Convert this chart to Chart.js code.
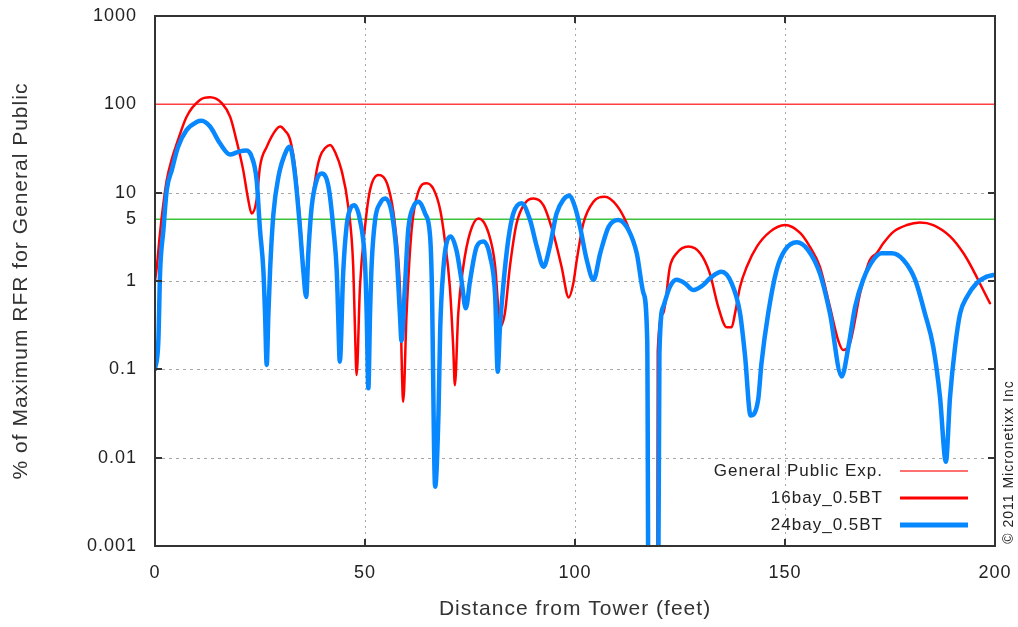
<!DOCTYPE html>
<html>
<head>
<meta charset="utf-8">
<title>RFR vs distance</title>
<script src="https://cdn.jsdelivr.net/npm/chart.js@4.4.1/dist/chart.umd.min.js"></script>
<style>
  html, body { margin: 0; padding: 0; background: #fff; }
  #wrap { width: 1018px; height: 627px; position: relative; }
</style>
</head>
<body>
<div id="wrap"><canvas id="rfr"></canvas></div>
<script>
/* ===== DATA ===== */
const xTicks = [0, 50, 100, 150, 200];
const yTicks = [1000, 100, 10, 5, 1, 0.1, 0.01, 0.001];
const xGrid = [50, 100, 150];
const yGrid = [10, 1, 0.1, 0.01];

const seriesLabels = ["General Public Exp.", "16bay_0.5BT", "24bay_0.5BT"];
const gpExpLimit = 100;   // general public exposure level
const refLevel = 5;       // green reference line
const limitSpan = [0, 200];

// 16 bay antenna, % of max RFR vs distance (ft)
const dist16 = [0, 0.4, 1.2, 2.0, 2.8, 4.0, 5.2, 7.5, 10.7, 13.1, 15.9, 17.9, 19.4, 21.0, 22.2, 23.0, 24.2, 25.0, 26.6, 29.0,
  29.8, 31.0, 32.1, 33.3, 34.5, 35.3, 35.9, 36.5, 37.3, 38.5, 39.3, 40.5, 41.7, 43.0, 44.4, 46.0, 47.2, 47.6, 48.0, 48.8,
  50.0, 51.2, 53.2, 55.5, 57.1, 58.3, 59.1, 59.9, 61.1, 62.7, 64.7, 66.3, 67.9, 69.0, 70.2, 71.0, 71.4, 72.2, 73.4, 75.0,
  77.0, 79.4, 81.0, 81.7, 82.1, 83.3, 84.5, 86.1, 88.1, 90.1, 92.5, 94.8, 96.8, 98.5, 99.6, 100.4, 102.0, 104.4, 107.1, 109.9,
  112.3, 114.7, 116.3, 117.3, 117.5, 119.6, 119.7, 121.0, 122.6, 124.2, 127.0, 129.8, 132.1, 134.1, 136.1, 137.3, 138.1, 139.3, 140.9, 143.3,
  146.4, 150.0, 153.6, 155.9, 158.3, 160.7, 162.7, 163.9, 165.5, 167.9, 170.2, 171.8, 173.4, 175.8, 179.0, 182.1, 185.3, 189.3, 192.5, 194.8,
  196.8, 198.8];
const bay16 = [1.0, 1.4, 3.5, 7.5, 13.9, 24, 36, 72, 112, 120, 103, 72, 39, 18, 8.3, 5.8, 8.3, 19.7, 33, 53,
  56, 50, 41, 20, 5.0, 1.5, 0.8, 2.2, 7.0, 18, 25.6, 32, 34.7, 28, 18, 7.0, 1.45, 0.3, 0.086, 0.86,
  4.1, 10.7, 15.8, 11.7, 4.5, 0.86, 0.043, 0.43, 3.8, 10.3, 12.8, 11, 6.4, 2.9, 0.86, 0.18, 0.066, 0.43, 1.45, 3.5,
  5.1, 3.5, 1.45, 0.51, 0.30, 0.43, 1.45, 4.5, 7.6, 8.6, 7.2, 3.5, 1.45, 0.65, 0.94, 1.7, 4.5, 7.9, 9.0, 7.2,
  4.5, 2.06, 0.73, 0.2, 0.0002, 0.0002, 0.16, 0.43, 1.45, 2.06, 2.45, 2.06, 1.22, 0.51, 0.30, 0.30, 0.43, 0.86, 1.45, 2.45,
  3.6, 4.3, 3.5, 2.45, 1.45, 0.51, 0.21, 0.165, 0.2, 0.73, 1.73, 2.06, 2.67, 3.6, 4.3, 4.6, 4.3, 3.2, 2.06, 1.33,
  0.86, 0.56];

// 24 bay antenna
const dist24 = [0, 0.8, 1.2, 2.0, 2.8, 4.0, 5.5, 7.5, 9.9, 11.1, 13.1, 15.5, 17.9, 19.8, 21.8, 23.0, 24.2, 25.0, 25.8, 26.2,
  26.6, 27.0, 27.4, 28.2, 29.4, 31.3, 32.1, 33.3, 34.5, 35.3, 36.0, 36.5, 37.3, 38.5, 39.7, 41.3, 42.5, 43.3, 43.6, 44.0,
  44.8, 45.6, 46.4, 47.4, 48.8, 50.0, 50.4, 50.8, 51.2, 51.6, 52.4, 53.6, 54.8, 56.4, 57.5, 58.3, 58.7, 59.5, 60.3, 61.5,
  62.7, 64.3, 65.5, 65.9, 66.7, 67.5, 67.9, 68.7, 69.4, 70.4, 71.8, 73.0, 74.0, 75.0, 76.6, 78.2, 79.8, 81.0, 81.6, 82.1,
  82.9, 84.1, 85.3, 87.3, 89.3, 90.9, 92.5, 94.0, 95.6, 97.2, 98.6, 100.0, 101.2, 102.8, 104.4, 106.0, 108.0, 110.3, 112.7, 114.7,
  116.3, 117.2, 117.5, 119.8, 120.1, 121.0, 122.6, 124.2, 126.2, 128.2, 130.5, 132.1, 134.9, 137.3, 139.3, 140.5, 141.8, 143.6, 144.4, 146.0,
  148.0, 150.0, 152.8, 155.5, 158.3, 160.7, 163.5, 165.1, 166.7, 168.6, 171.0, 173.0, 175.4, 178.2, 181.0, 183.3, 185.3, 186.9, 188.3, 189.3,
  190.5, 191.7, 193.3, 195.6, 198.0, 199.6];
const bay24 = [0.1, 0.21, 1.22, 3.8, 10.7, 18, 33, 51, 63, 65, 56, 36, 27, 29, 30, 25.6, 13.9, 3.8, 1.33, 0.43,
  0.112, 0.43, 1.33, 5.8, 15.2, 30, 33, 16.5, 4.1, 1.33, 0.66, 2.06, 6.9, 13.9, 16.5, 11.7, 3.8, 1.22, 0.43, 0.122,
  1.22, 4.1, 6.4, 7.2, 4.9, 1.59, 0.43, 0.061, 0.43, 1.59, 4.9, 7.6, 8.6, 5.8, 2.06, 0.43, 0.21, 0.86, 3.8, 6.9,
  7.9, 5.8, 3.2, 1.0, 0.0047, 0.032, 0.28, 1.45, 2.67, 3.2, 2.2, 1.0, 0.49, 1.0, 2.45, 2.8, 1.88, 0.66, 0.094, 0.28,
  0.86, 2.9, 5.8, 7.6, 4.9, 2.45, 1.45, 2.45, 5.8, 8.3, 9.2, 6.9, 4.1, 1.73, 1.03, 2.06, 4.1, 4.9, 3.8, 2.06,
  0.73, 0.21, 0.0002, 0.0002, 0.15, 0.51, 0.86, 1.03, 0.94, 0.79, 0.9, 1.07, 1.27, 0.94, 0.43, 0.14, 0.030, 0.045, 0.117, 0.43,
  1.33, 2.24, 2.74, 2.24, 1.22, 0.43, 0.083, 0.18, 0.51, 1.03, 1.73, 2.06, 2.06, 1.73, 1.03, 0.43, 0.18, 0.049, 0.009, 0.049,
  0.18, 0.43, 0.66, 0.94, 1.12, 1.17];

const toPoints = (xs, ys) => xs.map((x, i) => ({ x, y: ys[i] }));
const flat = v => limitSpan.map(x => ({ x, y: v }));

/* ===== LOOK ===== */
const FONT = "'Liberation Sans', Arial, Helvetica, sans-serif";
const TEXT = "#222";

// fixed plot box: the scales must not push it around
const fixBox = size => s => {
  Object.assign(s, size);
  s.paddingTop = s.paddingBottom = s.paddingLeft = s.paddingRight = 0;
};

/* ===== PLUGIN: grid, frame, legend, copyright ===== */
const framePlugin = {
  id: "frame",
  beforeDraw(chart) {
    chart.ctx.letterSpacing = "1px";
  },
  beforeDatasetsDraw(chart) {
    const { ctx, chartArea: a, scales: { x, y } } = chart;
    ctx.save();
    ctx.strokeStyle = "#a8a8a8";
    ctx.lineWidth = 1;
    ctx.setLineDash([3, 4]);
    yGrid.forEach(v => {
      const py = Math.round(y.getPixelForValue(v)) + 0.5;
      ctx.beginPath();
      ctx.moveTo(a.left, py);
      ctx.lineTo(a.right, py);
      ctx.stroke();
    });
    ctx.setLineDash([2, 4]);
    xGrid.forEach(v => {
      const px = Math.round(x.getPixelForValue(v)) + 0.5;
      ctx.beginPath();
      ctx.moveTo(px, a.top);
      ctx.lineTo(px, a.bottom);
      ctx.stroke();
    });
    ctx.restore();
  },
  afterDatasetsDraw(chart) {
    const { ctx, chartArea: a, scales: { x, y } } = chart;
    ctx.save();
    ctx.strokeStyle = "#333";
    ctx.lineWidth = 2;
    ctx.strokeRect(a.left, a.top, a.right - a.left, a.bottom - a.top);
    ctx.beginPath();
    yGrid.forEach(v => {
      const py = Math.round(y.getPixelForValue(v));
      ctx.moveTo(a.left, py); ctx.lineTo(a.left + 7, py);
      ctx.moveTo(a.right, py); ctx.lineTo(a.right - 7, py);
    });
    xGrid.forEach(v => {
      const px = Math.round(x.getPixelForValue(v));
      ctx.moveTo(px, a.bottom); ctx.lineTo(px, a.bottom - 7);
      ctx.moveTo(px, a.top); ctx.lineTo(px, a.top + 7);
    });
    ctx.stroke();

    // legend, bottom right inside the plot
    ctx.font = `17px ${FONT}`;
    ctx.textAlign = "right";
    ctx.textBaseline = "middle";
    ctx.fillStyle = TEXT;
    seriesLabels.forEach((label, i) => {
      const ds = chart.data.datasets.find(d => d.label === label);
      const rowY = a.bottom - 75 + i * 27;
      ctx.fillText(label, a.right - 112, rowY);
      ctx.strokeStyle = ds.borderColor;
      ctx.lineWidth = ds.legendWidth;
      ctx.beginPath();
      ctx.moveTo(a.right - 95, rowY);
      ctx.lineTo(a.right - 27, rowY);
      ctx.stroke();
    });

    // copyright, vertical on the right
    ctx.translate(1009, 462);
    ctx.rotate(-Math.PI / 2);
    ctx.font = `14px ${FONT}`;
    ctx.textAlign = "center";
    ctx.fillStyle = TEXT;
    ctx.fillText("© 2011 Micronetixx Inc", 0, 0);
    ctx.restore();
  }
};

/* ===== CHART ===== */
new Chart(document.getElementById("rfr"), {
  type: "line",
  data: {
    datasets: [
      {
        label: seriesLabels[2],
        data: toPoints(dist24, bay24),
        borderColor: "#0888ff",
        borderWidth: 4.5,
        legendWidth: 5,
        cubicInterpolationMode: "monotone"
      },
      {
        label: seriesLabels[1],
        data: toPoints(dist16, bay16),
        borderColor: "#ff0000",
        borderWidth: 2.5,
        legendWidth: 3,
        cubicInterpolationMode: "monotone"
      },
      {
        label: seriesLabels[0],
        data: flat(gpExpLimit),
        borderColor: "#ff4040",
        borderWidth: 1.5,
        legendWidth: 1.5
      },
      {
        label: "",
        data: flat(refLevel),
        borderColor: "#3cc43c",
        borderWidth: 1.5
      }
    ]
  },
  options: {
    responsive: true,
    maintainAspectRatio: false,
    animation: false,
    events: [],
    layout: { autoPadding: false, padding: { top: 16, right: 23, bottom: 0, left: 0 } },
    elements: {
      point: { radius: 0 },
      line: { tension: 0, borderJoinStyle: "round", borderCapStyle: "round" }
    },
    plugins: {
      legend: { display: false },
      tooltip: { enabled: false }
    },
    scales: {
      x: {
        type: "linear",
        min: 0,
        max: 200,
        afterFit: fixBox({ height: 81 }),
        afterBuildTicks: s => { s.ticks = xTicks.map(value => ({ value })); },
        grid: { display: false, drawTicks: false },
        border: { display: false },
        ticks: {
          padding: 16,
          maxRotation: 0,
          color: TEXT,
          font: { family: FONT, size: 18 }
        },
        title: {
          display: true,
          text: "Distance from Tower (feet)",
          color: "#333",
          font: { family: FONT, size: 21 },
          padding: { top: 0, bottom: 5 }
        }
      },
      y: {
        type: "logarithmic",
        min: 0.001,
        max: 1000,
        afterFit: fixBox({ width: 155 }),
        afterBuildTicks: s => { s.ticks = yTicks.map(value => ({ value })); },
        grid: { display: false, drawTicks: false },
        border: { display: false },
        ticks: {
          padding: 18,
          color: TEXT,
          font: { family: FONT, size: 18 },
          callback: v => String(v)
        },
        title: {
          display: true,
          text: "% of Maximum RFR for General Public",
          color: "#333",
          font: { family: FONT, size: 21 },
          padding: { top: 9, bottom: 0 }
        }
      }
    }
  },
  plugins: [framePlugin]
});
</script>
</body>
</html>
